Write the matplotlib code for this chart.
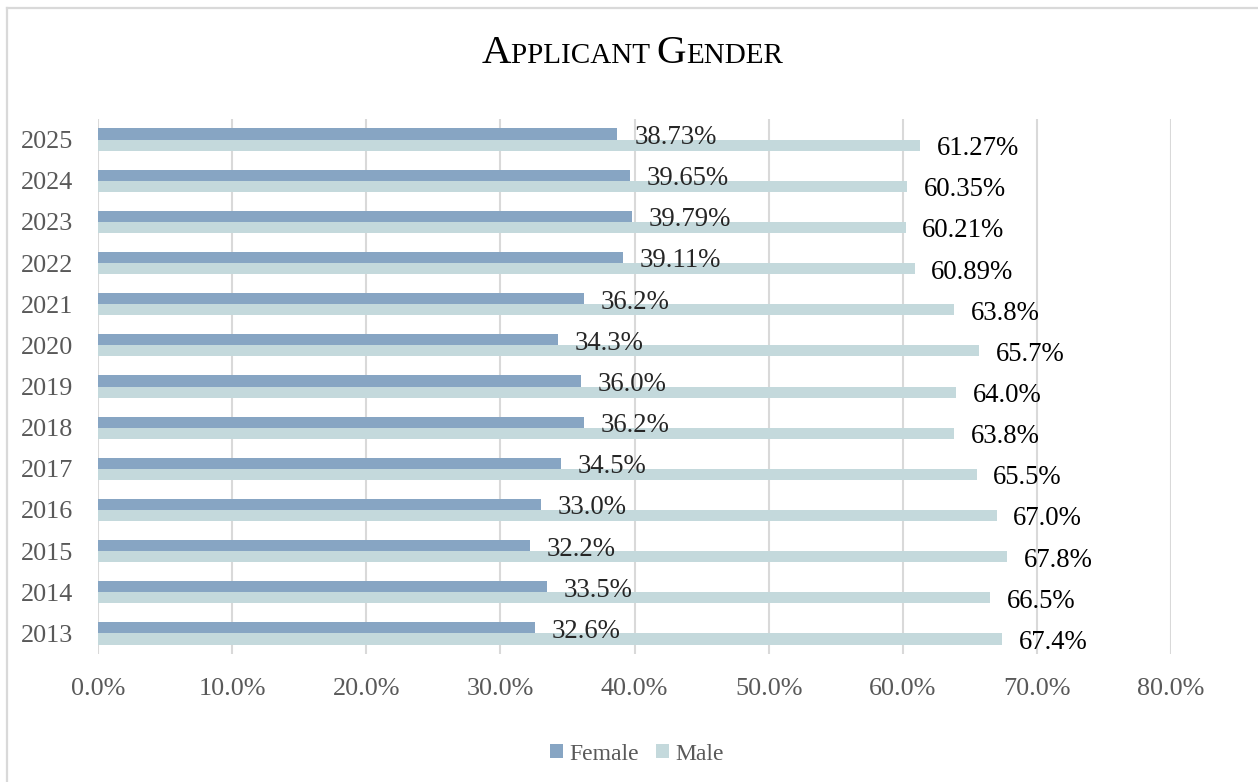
import matplotlib
matplotlib.use("Agg")
import matplotlib.pyplot as plt
from matplotlib.lines import Line2D
from matplotlib.patches import Patch

years = ["2013", "2014", "2015", "2016", "2017", "2018", "2019",
         "2020", "2021", "2022", "2023", "2024", "2025"]
female = [32.6, 33.5, 32.2, 33.0, 34.5, 36.2, 36.0, 34.3, 36.2, 39.11, 39.79, 39.65, 38.73]
male = [67.4, 66.5, 67.8, 67.0, 65.5, 63.8, 64.0, 65.7, 63.8, 60.89, 60.21, 60.35, 61.27]
female_labels = ["32.6%", "33.5%", "32.2%", "33.0%", "34.5%", "36.2%", "36.0%",
                 "34.3%", "36.2%", "39.11%", "39.79%", "39.65%", "38.73%"]
male_labels = ["67.4%", "66.5%", "67.8%", "67.0%", "65.5%", "63.8%", "64.0%",
               "65.7%", "63.8%", "60.89%", "60.21%", "60.35%", "61.27%"]
xticks = [0, 10, 20, 30, 40, 50, 60, 70, 80]
xtick_labels = ["0.0%", "10.0%", "20.0%", "30.0%", "40.0%", "50.0%", "60.0%", "70.0%", "80.0%"]

FEMALE_C = "#87A5C3"
MALE_C = "#C4D9DC"
GRID_C = "#D9D9D9"
TXT_C = "#595959"
FONT = "Liberation Serif"

plt.rcParams["font.family"] = [FONT, "DejaVu Serif"]

W, H = 1258, 782
fig = plt.figure(figsize=(W / 100, H / 100), dpi=100)
ax = fig.add_axes([98 / W, 1 - 654 / H, (1171 - 98) / W, (654 - 119) / H])

ypos = list(range(len(years)))
bh = 0.27
off = 0.135
ax.barh([y + off for y in ypos], female, height=bh, color=FEMALE_C, zorder=3)
ax.barh([y - off for y in ypos], male, height=bh, color=MALE_C, zorder=3)

for y, v, lab in zip(ypos, female, female_labels):
    ax.annotate(lab, (v, y + off), xytext=(12, -2.5), textcoords="offset points",
                ha="left", va="center", fontsize=19.3, color="#262626", zorder=4)
for y, v, lab in zip(ypos, male, male_labels):
    ax.annotate(lab, (v, y - off), xytext=(12, -2.5), textcoords="offset points",
                ha="left", va="center", fontsize=19.3, color="#000000", zorder=4)

ax.set_xlim(0, 80)
ax.set_ylim(-0.5, len(years) - 0.5)
ax.set_xticks(xticks)
ax.set_xticklabels(xtick_labels, fontsize=18.8, color=TXT_C)
ax.set_yticks(ypos)
ax.set_yticklabels(years, fontsize=18.8, color=TXT_C)
ax.tick_params(axis="both", length=0)
ax.tick_params(axis="x", pad=17)
ax.tick_params(axis="y", pad=18)
ax.grid(axis="x", color=GRID_C, linewidth=1.5, zorder=0)
ax.grid(axis="y", visible=False)
for s in ax.spines.values():
    s.set_visible(False)

# legend
handles = [Patch(facecolor=FEMALE_C, label="Female"), Patch(facecolor=MALE_C, label="Male")]
leg = fig.legend(handles=handles, loc="center", bbox_to_anchor=(637 / W, 1 - 754 / H),
                 ncol=2, frameon=False, fontsize=17, handlelength=0.55, handleheight=0.55,
                 handletextpad=0.25, columnspacing=0.75)
for t in leg.get_texts():
    t.set_color(TXT_C)

# border
fig.add_artist(Line2D([7 / W, 1.0], [1 - 8 / H, 1 - 8 / H], transform=fig.transFigure,
                      color=GRID_C, linewidth=1.6))
fig.add_artist(Line2D([7 / W, 7 / W], [0.0, 1 - 8 / H], transform=fig.transFigure,
                      color=GRID_C, linewidth=1.6))

# small-caps title
pieces = [("A", 29.5), ("PPLICANT ", 21), ("G", 29.5), ("ENDER", 21)]
renderer = fig.canvas.get_renderer()
texts = []
for s, fs in pieces:
    t = fig.text(0, 1 - 63 / H, s, fontsize=fs, color="black", ha="left", va="baseline")
    texts.append(t)
widths = [t.get_window_extent(renderer=renderer).width for t in texts]
total = sum(widths)
x = 632 - total / 2
for t, w in zip(texts, widths):
    t.set_x(x / W)
    x += w

fig.savefig("out.png", dpi=100)
